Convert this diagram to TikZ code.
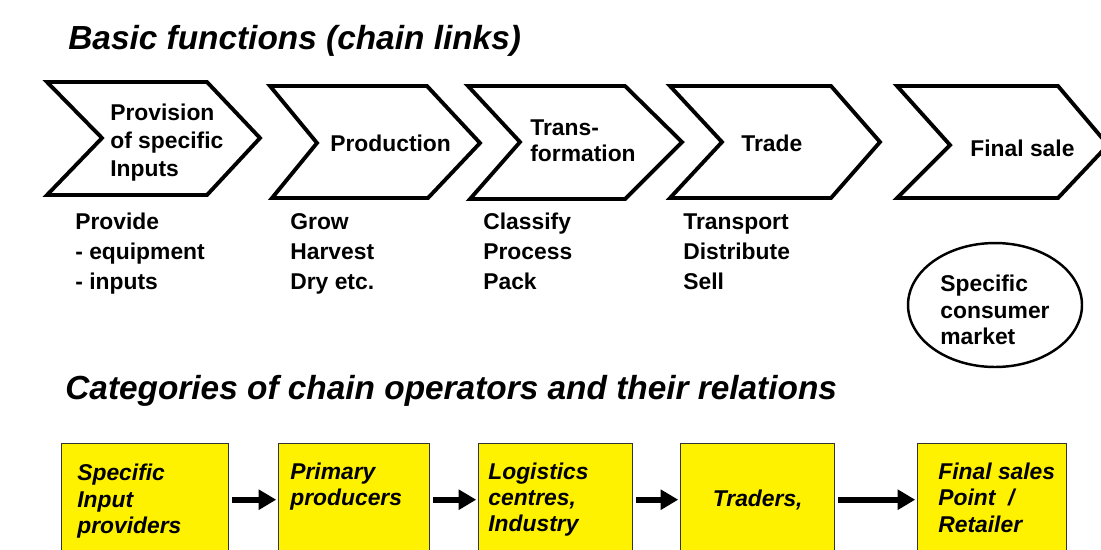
\documentclass[tikz,border=0pt]{standalone}
\usepackage{fontspec}
\setmainfont{Liberation Sans}
\usetikzlibrary{arrows.meta,shapes.geometric,positioning}

\tikzset{
  chev/.style={draw=black, line width=2.2pt, line join=miter},
  lbl/.style={font=\fontsize{13}{16}\selectfont\bfseries, align=left, inner sep=0pt, anchor=west},
  task/.style={font=\fontsize{13}{17}\selectfont\bfseries, align=left, inner sep=0pt, anchor=base west},
  heading/.style={font=\fontsize{19}{23}\selectfont\bfseries\itshape, inner sep=0pt, anchor=base west},
  opbox/.style={draw=black!80, line width=0.8pt, fill=yellow, minimum height=2.24cm, anchor=north west, inner sep=0pt},
  optext/.style={font=\fontsize{13}{15}\selectfont\bfseries\itshape, align=left, inner sep=0pt, anchor=west},
  flow/.style={line width=3.4pt, -{Triangle[length=10pt,width=11pt]}, shorten <=1.5pt, shorten >=1pt},
}

\begin{document}
\begin{tikzpicture}[x=0.02cm, y=-0.02cm]
  \useasboundingbox (0,0) rectangle (1101,549);
  \clip (0,0) rectangle (1101,549);

  \node[heading] (t1) at (68,49) {Basic functions (chain links)};

  % chain links
  \draw[chev] (47,82) -- (207,82) -- (260,138) -- (207,195) -- (47,195) -- (102,138) -- cycle;
  \draw[chev] (270,86) -- (427,86) -- (480,143) -- (428,198) -- (272,198) -- (317,143) -- cycle;
  \draw[chev] (468,86) -- (625,86) -- (682,142) -- (625,199) -- (470,199) -- (520,142) -- cycle;
  \draw[chev] (670,86) -- (831,86) -- (880,142) -- (831,198) -- (670,198) -- (722,142) -- cycle;
  \draw[chev] (897,86) -- (1058,86) -- (1108,145) -- (1058,198) -- (897,198) -- (950,145) -- cycle;

  \node[lbl, font=\fontsize{13}{15.9}\selectfont\bfseries] (prov) at (110,143) {Provision\\of specific\\Inputs};
  \node[lbl] (prod) at (330,143) {Production};
  \node[lbl, font=\fontsize{13}{14.8}\selectfont\bfseries] (trans) at (530,141) {Trans-\\formation};
  \node[lbl] (trade) at (741,143) {Trade};
  \node[lbl] (sale) at (970,148) {Final sale};

  \node[task] (d1) at (75,289) {Provide\\- equipment\\- inputs};
  \node[task] (d2) at (290,289) {Grow\\Harvest\\Dry etc.};
  \node[task] (d3) at (483,289) {Classify\\Process\\Pack};
  \node[task] (d4) at (683,289) {Transport\\Distribute\\Sell};

  \node[ellipse, draw, line width=1.4pt, minimum width=3.48cm, minimum height=2.48cm] (mkt) at (995,305) {};
  \node[task, font=\fontsize{13}{15.3}\selectfont\bfseries, anchor=center, yshift=-2.8pt] (mkttxt) at (mkt) {Specific\\consumer\\market};

  \node[heading] (t2) at (65,399) {Categories of chain operators and their relations};

  % operators
  \node[opbox, minimum width=3.34cm] (b1) at (61,443) {};
  \node[opbox, minimum width=3.02cm] (b2) at (278,443) {};
  \node[opbox, minimum width=3.08cm] (b3) at (478,443) {};
  \node[opbox, minimum width=3.08cm] (b4) at (680,443) {};
  \node[opbox, minimum width=2.98cm] (b5) at (917,443) {};

  \node[optext, right=0.32cm of b1.west, yshift=-0.03cm] (o1) {Specific\\Input\\providers};
  \node[optext, right=0.24cm of b2.west, yshift=0.26cm] (o2) {Primary\\producers};
  \node[optext, right=0.2cm of b3.west] (o3) {Logistics\\centres,\\Industry};
  \node[optext, anchor=center] (o4) at (b4) {Traders,};
  \node[optext, right=0.42cm of b5.west, yshift=0.04cm] (o5) {Final sales\\Point~~/\\Retailer};

  \draw[flow] (b1) -- (b2);
  \draw[flow] (b2) -- (b3);
  \draw[flow] (b3) -- (b4);
  \draw[flow] (b4) -- (b5);
\end{tikzpicture}
\end{document}
